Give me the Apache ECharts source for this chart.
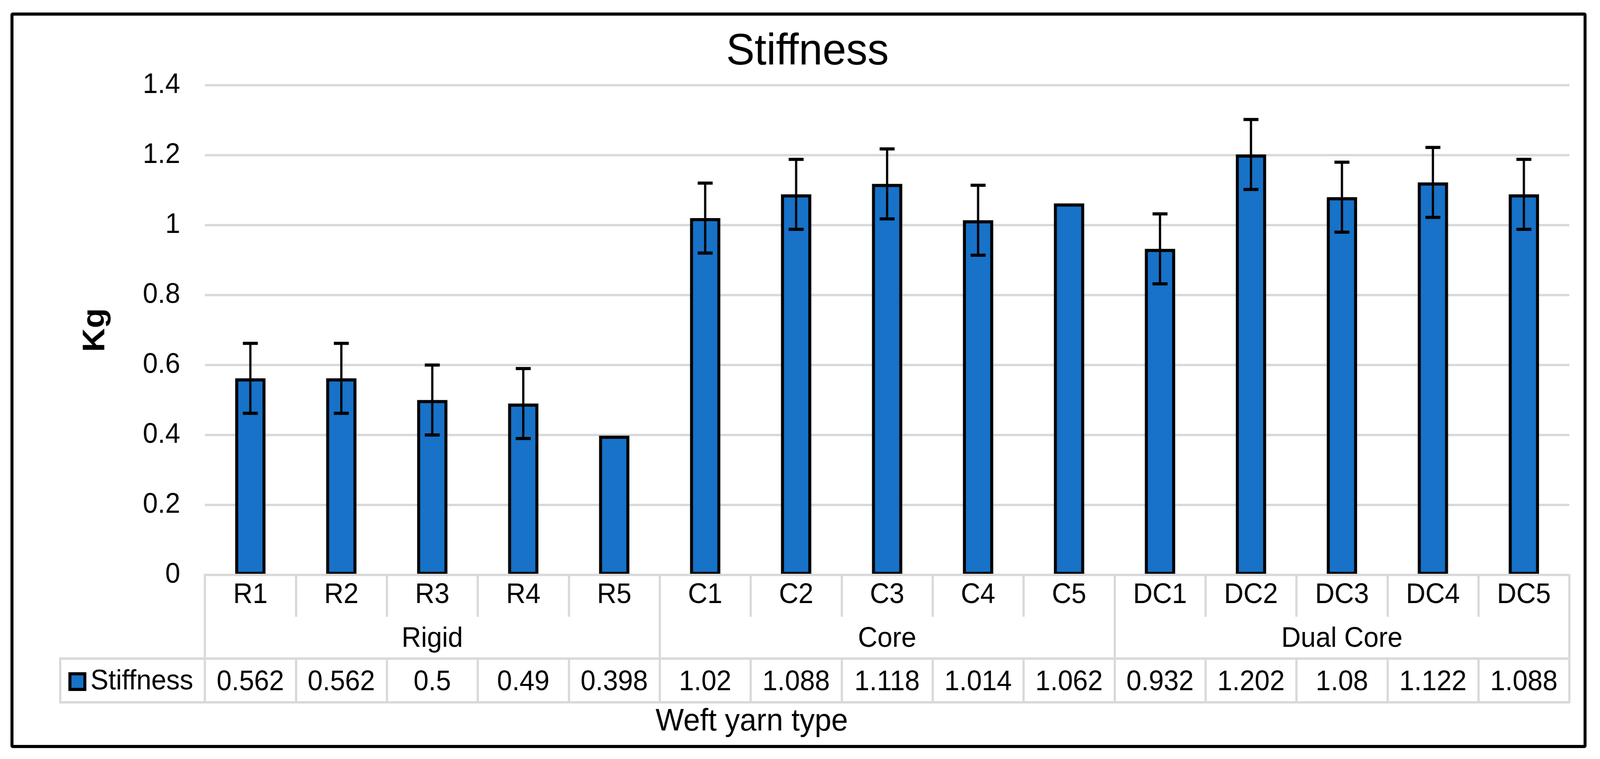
<!DOCTYPE html>
<html>
<head>
<meta charset="utf-8">
<script src="https://cdn.jsdelivr.net/npm/echarts@6/dist/echarts.min.js"></script>
<style>
html,body{margin:0;padding:0;background:#fff;overflow:hidden;}
#chart{width:4280px;height:1942px;transform-origin:0 0;}
</style>
</head>
<body>
<div id="chart"></div>
<script>
const categories = ['R1','R2','R3','R4','R5','C1','C2','C3','C4','C5','DC1','DC2','DC3','DC4','DC5'];
const stiffness = [0.562,0.562,0.5,0.49,0.398,1.02,1.088,1.118,1.014,1.062,0.932,1.202,1.08,1.122,1.088];
const errors = [0.1,0.1,0.1,0.1,null,0.1,0.1,0.1,0.1,null,0.1,0.1,0.1,0.1,0.1];
const groups = ['Rigid','Core','Dual Core'];
const yMin = 0, yMax = 1.4, yStep = 0.2;

const FONT = "'Liberation Sans', Arial, sans-serif";
const GRAY = '#d9d9d9';
const BLUE = '#1772c8';

// fit the 4280x1942 design into whatever viewport the page gets
const el = document.getElementById('chart');
const sx = (window.innerWidth || 4280) / 4280;
const sy = (window.innerHeight || 1942) / 1942;
if (Math.abs(sx - 1) > 0.002 || Math.abs(sy - 1) > 0.002) {
  el.style.transform = 'scale(' + sx + ',' + sy + ')';
}

const chart = echarts.init(el, null, {renderer:'canvas', devicePixelRatio:1});

const gridLeft = 548, gridRight = 82, gridTop = 218, gridBottom = 471;
const axisY = 1942 - gridBottom;

const option = {
  backgroundColor: '#fff',
  animation: false,
  textStyle: {fontFamily: FONT, color: '#000'},
  title: [
    {text: 'Stiffness', left: 2155, top: 72, textAlign: 'center',
     textStyle: {fontFamily: FONT, fontSize: 114, fontWeight: 'normal', color: '#000'}},
    {text: 'Weft yarn type', left: 2006, top: 1802, textAlign: 'center',
     textStyle: {fontFamily: FONT, fontSize: 80, fontWeight: 'normal', color: '#000'}}
  ],
  legend: {
    data: ['Stiffness'],
    left: 178, top: 1703,
    itemWidth: 40, itemHeight: 40,
    icon: 'rect',
    itemStyle: {color: BLUE, borderColor: '#000', borderWidth: 8},
    textStyle: {fontFamily: FONT, fontSize: 72, color: '#000', padding: [0,0,0,10]}
  },
  grid: {left: gridLeft, right: gridRight, top: gridTop, bottom: gridBottom, containLabel: false},
  yAxis: {
    type: 'value', min: yMin, max: yMax, interval: yStep,
    name: 'Kg', nameLocation: 'middle', nameGap: 250,
    nameTextStyle: {fontFamily: FONT, fontSize: 84, fontWeight: 'bold', color: '#000'},
    axisLine: {show: false}, axisTick: {show: false},
    axisLabel: {fontFamily: FONT, fontSize: 72, color: '#000', margin: 66},
    splitLine: {lineStyle: {color: GRAY, width: 6}}
  },
  xAxis: [
    { // category labels row
      type: 'category', data: categories, position: 'bottom', z: 5,
      axisLine: {show: true, lineStyle: {color: GRAY, width: 6}},
      axisTick: {show: true, interval: 0, length: 107, lineStyle: {color: GRAY, width: 6}},
      axisLabel: {interval: 0, fontFamily: FONT, fontSize: 72, color: '#000', margin: 16, lineHeight: 72},
      splitLine: {show: false}
    },
    { // data values row
      type: 'category', data: categories, position: 'bottom', offset: 214, z: 5,
      axisLine: {show: true, lineStyle: {color: GRAY, width: 6}},
      axisTick: {show: true, interval: 0, length: 112, lineStyle: {color: GRAY, width: 6}},
      axisLabel: {interval: 0, fontFamily: FONT, fontSize: 72, color: '#000', margin: 25, lineHeight: 72,
        formatter: (v, i) => String(stiffness[i])},
      splitLine: {show: false}
    },
    { // group labels row
      type: 'category', data: groups, position: 'bottom', z: 5,
      axisLine: {show: false},
      axisTick: {show: true, interval: 0, length: 214, lineStyle: {color: GRAY, width: 6}},
      axisLabel: {interval: 0, fontFamily: FONT, fontSize: 72, color: '#000', margin: 128, lineHeight: 72},
      splitLine: {show: false}
    },
    { // bottom border of table
      type: 'category', data: categories, position: 'bottom', offset: 326, z: 5,
      axisLine: {show: true, lineStyle: {color: GRAY, width: 6}},
      axisTick: {show: false}, axisLabel: {show: false}, splitLine: {show: false}
    }
  ],
  series: [
    {
      name: 'Stiffness', type: 'bar', data: stiffness, xAxisIndex: 0,
      barWidth: 81,
      itemStyle: {color: BLUE, borderColor: '#000', borderWidth: 8}
    },
    {
      name: 'err', type: 'custom', xAxisIndex: 0, z: 3,
      data: categories.map((c, i) => [i, stiffness[i], errors[i]]),
      renderItem: function (params, api) {
        const e = api.value(2);
        if (!e) return null;
        const i = api.value(0), v = api.value(1);
        const hi = api.coord([i, v + e]);
        const lo = api.coord([i, v - e]);
        const half = 20;
        const st = {stroke: '#000', lineWidth: 6};
        const cap = {stroke: '#000', lineWidth: 8};
        return {type: 'group', children: [
          {type: 'line', shape: {x1: hi[0], y1: hi[1], x2: lo[0], y2: lo[1]}, style: st},
          {type: 'line', shape: {x1: hi[0]-half, y1: hi[1], x2: hi[0]+half, y2: hi[1]}, style: cap},
          {type: 'line', shape: {x1: lo[0]-half, y1: lo[1], x2: lo[0]+half, y2: lo[1]}, style: cap}
        ]};
      }
    }
  ],
  graphic: [
    {type: 'rect', z: 1, shape: {x: 161, y: axisY + 214, width: gridLeft - 161, height: 112},
     style: {fill: null, stroke: GRAY, lineWidth: 6}},
    {type: 'rect', z: 10, shape: {x: 32, y: 36, width: 4208, height: 1874, r: 2},
     style: {fill: null, stroke: '#000', lineWidth: 8}}
  ]
};
chart.setOption(option);
</script>
</body>
</html>
